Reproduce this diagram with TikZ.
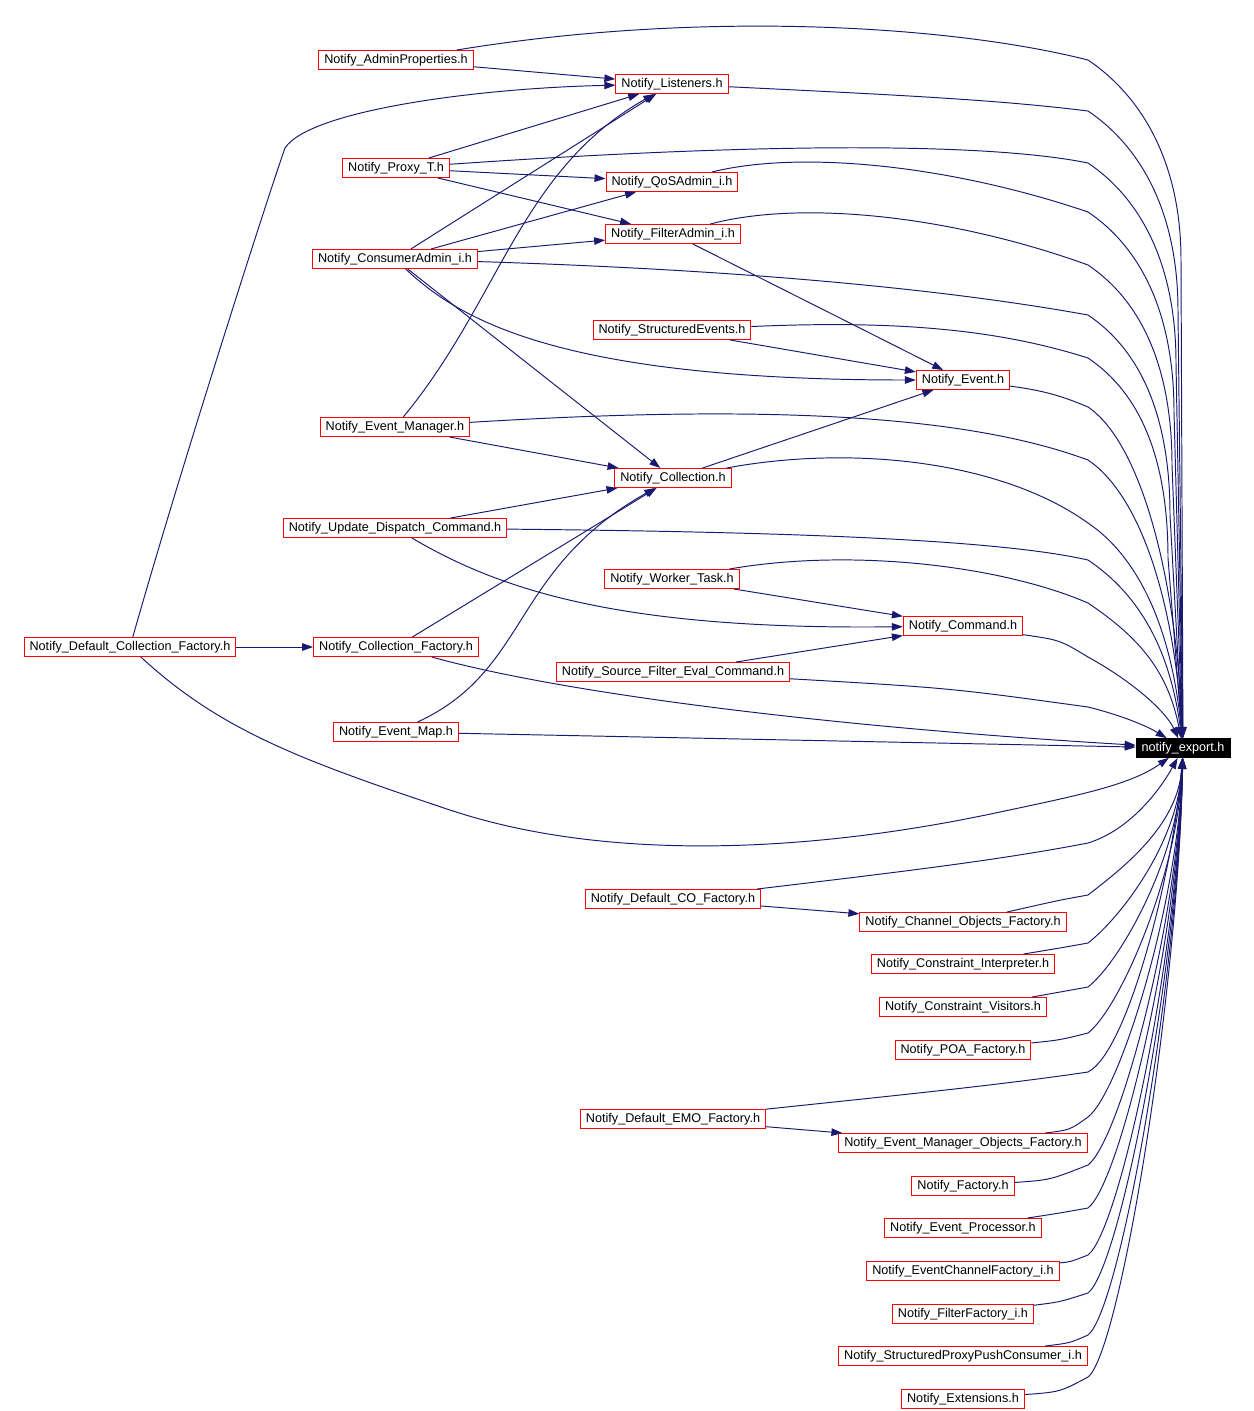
\documentclass[tikz,border=0pt]{standalone}
\usepackage{fontspec}
\setmainfont{Liberation Sans}
\usetikzlibrary{arrows.meta}
\definecolor{edgeblue}{HTML}{191970}

\begin{document}
\begin{tikzpicture}[
    x=0.02cm, y=-0.02cm,
    file/.style={
        draw=red,
        fill=white,
        line width=0.55pt,
        minimum height=0.38cm,
        inner xsep=0.11cm,
        inner ysep=0pt,
        font=\fontsize{7.2pt}{8pt}\selectfont
    },
    root/.style={
        draw=black,
        fill=black,
        text=white,
        minimum height=0.38cm,
        inner xsep=0.11cm,
        inner ysep=0pt,
        font=\fontsize{7.2pt}{8pt}\selectfont
    },
    edge/.style={
        -{Triangle[length=0.22cm,width=0.15cm]},
        edgeblue,
        line width=0.55pt
    }
]

\useasboundingbox (0,0) rectangle (1254,1411);

%% --- headers on the left ---
\node[file] (ap)    at (396,60)  {Notify\_AdminProperties.h};
\node[file] (proxy) at (396,168) {Notify\_Proxy\_T.h};
\node[file] (ca)    at (395,259) {Notify\_ConsumerAdmin\_i.h};
\node[file] (em)    at (395,427) {Notify\_Event\_Manager.h};
\node[file] (udc)   at (395,528) {Notify\_Update\_Dispatch\_Command.h};
\node[file] (dcf)   at (130,647) {Notify\_Default\_Collection\_Factory.h};
\node[file] (cf)    at (396,647) {Notify\_Collection\_Factory.h};
\node[file] (emap)  at (396,732) {Notify\_Event\_Map.h};

%% --- middle column ---
\node[file] (lis)   at (672,84)   {Notify\_Listeners.h};
\node[file] (qos)   at (672,182)  {Notify\_QoSAdmin\_i.h};
\node[file] (fa)    at (673,234)  {Notify\_FilterAdmin\_i.h};
\node[file] (se)    at (672,330)  {Notify\_StructuredEvents.h};
\node[file] (col)   at (673,478)  {Notify\_Collection.h};
\node[file] (wt)    at (672,579)  {Notify\_Worker\_Task.h};
\node[file] (sfec)  at (673,672)  {Notify\_Source\_Filter\_Eval\_Command.h};
\node[file] (dco)   at (673,899)  {Notify\_Default\_CO\_Factory.h};
\node[file] (demo)  at (673,1119) {Notify\_Default\_EMO\_Factory.h};

%% --- right column ---
\node[file] (ev)    at (963,380)  {Notify\_Event.h};
\node[file] (cmd)   at (963,626)  {Notify\_Command.h};
\node[file] (cof)   at (963,922)  {Notify\_Channel\_Objects\_Factory.h};
\node[file] (ci)    at (963,964)  {Notify\_Constraint\_Interpreter.h};
\node[file] (cv)    at (963,1007) {Notify\_Constraint\_Visitors.h};
\node[file] (poa)   at (963,1050) {Notify\_POA\_Factory.h};
\node[file] (emof)  at (963,1143) {Notify\_Event\_Manager\_Objects\_Factory.h};
\node[file] (fac)   at (963,1186) {Notify\_Factory.h};
\node[file] (evp)   at (963,1228) {Notify\_Event\_Processor.h};
\node[file] (ecf)   at (963,1271) {Notify\_EventChannelFactory\_i.h};
\node[file] (ff)    at (963,1314) {Notify\_FilterFactory\_i.h};
\node[file] (sppc)  at (963,1356) {Notify\_StructuredProxyPushConsumer\_i.h};
\node[file] (ext)   at (963,1399) {Notify\_Extensions.h};

%% --- the included file ---
\node[root] (ne) at (1183,748) {notify\_export.h};

%% --- includes between the headers ---
\draw[edge] (ap) -- (lis);
\draw[edge] (proxy) -- (lis);
\draw[edge] (proxy) -- (qos);
\draw[edge] (proxy) -- (fa);
\draw[edge] (ca) -- (lis);
\draw[edge] (ca) -- (qos);
\draw[edge] (ca) -- (fa);
\draw[edge] (ca) -- (col);
\draw[edge] (ca) .. controls (460,320) and (560,380) .. (ev);
\draw[edge] (fa) -- (ev);
\draw[edge] (se) -- (ev);
\draw[edge] (em) .. controls (500,300) and (520,170) .. (lis);
\draw[edge] (em) -- (col);
\draw[edge] (col) -- (ev);
\draw[edge] (udc) -- (col);
\draw[edge] (udc) .. controls (500,590) and (620,630) .. (cmd);
\draw[edge] (wt) -- (cmd);
\draw[edge] (sfec) -- (cmd);
\draw[edge] (dcf) -- (cf);
\draw[edge] (dcf) .. controls (180,470) and (270,190) .. (285,148)
    .. controls (310,110) and (480,88) .. (lis);
\draw[edge] (cf) -- (col);
\draw[edge] (emap) .. controls (530,670) and (510,570) .. (col);
\draw[edge] (dco) -- (cof);
\draw[edge] (demo) -- (emof);

%% --- everything into notify_export.h ---
% from above, long way down the right side
\foreach \src/\cxa/\cya/\cxb/\cyb/\ky/\vx in {
    ap/700/10/950/25/60/1181,
    lis/900/95/1000/100/111/1178,
    proxy/800/140/1000/145/163/1176,
    qos/800/150/950/165/212/1174,
    fa/800/200/950/215/265/1172,
    ca/750/270/950/290/315/1170,
    se/900/320/1000/330/358/1168} {
    \draw[edge] (\src) .. controls (\cxa,\cya) and (\cxb,\cyb) .. (1088,\ky)
        .. controls (1140,\ky+35) and (\vx,\ky+100) .. (\vx,\ky+200) -- (ne);
}
\foreach \src/\cxa/\cya/\cxb/\cyb/\ky/\vx in {
    ev/1040/390/1060/395/407/1176,
    em/800/402/980/420/460/1174,
    col/850/445/1000/460/523/1172,
    udc/800/532/1000/540/560/1170,
    wt/850/548/1000/565/603/1168} {
    \draw[edge] (\src) .. controls (\cxa,\cya) and (\cxb,\cyb) .. (1088,\ky)
        .. controls (1140,\ky+35) and (\vx,{\ky+0.5*(740-\ky)}) .. (ne);
}
\draw[edge] (cmd) .. controls (1060,640) .. (1088,657)
    .. controls (1130,680) and (1165,710) .. (ne);
\draw[edge] (sfec) .. controls (950,688) .. (1088,707)
    .. controls (1120,715) and (1145,725) .. (ne);

% from the left
\draw[edge] (cf) .. controls (550,690) and (800,725) .. (ne);
\draw[edge] (emap) -- (ne);
\draw[edge] (dcf) .. controls (220,730) and (300,760) .. (450,810)
    .. controls (600,860) and (800,855) .. (1000,812)
    .. controls (1080,795) and (1130,785) .. (ne);
\draw[edge] (dco) .. controls (900,872) and (1000,860) .. (1088,843)
    .. controls (1130,830) and (1160,790) .. (ne);
\draw[edge] (demo) .. controls (900,1095) and (1000,1085) .. (1088,1072)
    .. controls (1130,1050) and (1175,860) .. (ne);

% from below
\foreach \src/\cx/\cy/\ky in {
    cof/1060/900/895, ci/1060/948/943, cv/1060/993/987,
    poa/1060/1040/1033, emof/1070/1130/1117, fac/1050/1180/1165,
    evp/1060/1213/1208, ecf/1070/1262/1255, ff/1060/1302/1293,
    sppc/1070/1343/1335, ext/1060/1392/1377} {
    \draw[edge] (\src) .. controls (\cx,\cy) .. (1088,\ky)
        .. controls (1120,\ky-25) and (1178,{790+0.35*(\ky-790)}) .. (ne);
}

\end{tikzpicture}
\end{document}
